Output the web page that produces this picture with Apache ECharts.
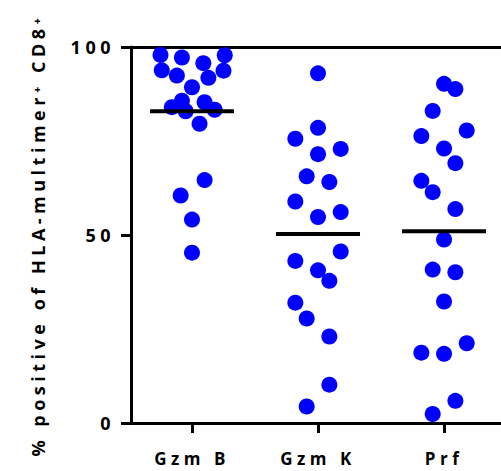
<!DOCTYPE html>
<html>
<head>
<meta charset="utf-8">
<script src="https://cdn.jsdelivr.net/npm/echarts@6/dist/echarts.min.js"></script>
<style>
  html, body { margin: 0; padding: 0; background: #fff; }
  #chart { width: 501px; height: 471px; }
  #chart text { letter-spacing: 4.5px; }
</style>
</head>
<body>
<div id="chart"></div>
<script>
var categories = ["Gzm B", "Gzm K", "Prf"];
var yTicks = [0, 50, 100];

// % positive
var gzmBValues = [97.9, 97.2, 95.7, 97.8, 93.8, 92.4, 91.8, 93.7, 89.3, 85.7, 85.3, 84.0, 82.9, 83.3, 79.6, 64.6, 60.5, 54.1, 45.3];
var gzmKValues = [93.0, 78.5, 75.6, 72.9, 71.5, 65.6, 64.1, 58.9, 54.8, 56.1, 45.6, 43.1, 40.6, 37.8, 32.0, 27.8, 23.0, 10.2, 4.4];
var prfValues = [90.2, 88.8, 83.0, 77.8, 76.3, 73.0, 69.1, 64.4, 61.4, 56.9, 48.8, 40.8, 40.1, 32.3, 21.2, 18.7, 18.4, 5.9, 2.4];

// horizontal scatter of each dot inside its column (in category units)
var gzmBJitter = [-0.25, -0.08, 0.09, 0.26, -0.24, -0.12, 0.13, 0.25, 0.0, -0.08, 0.1, -0.16, -0.05, 0.18, 0.06, 0.1, -0.09, 0.0, 0.0];
var gzmKJitter = [0, 0, -0.18, 0.18, 0, -0.09, 0.09, -0.18, 0, 0.18, 0.18, -0.18, 0, 0.09, -0.18, -0.09, 0.09, 0.09, -0.09];
var prfJitter = [0, 0.09, -0.09, 0.18, -0.18, 0, 0.09, -0.18, -0.09, 0.09, 0, -0.09, 0.09, 0, 0.18, -0.18, 0, 0.09, -0.09];

var groups = [
  { values: gzmBValues, jitter: gzmBJitter },
  { values: gzmKValues, jitter: gzmKJitter },
  { values: prfValues, jitter: prfJitter },
];

var dots = [];
var means = [];
groups.forEach(function (g, i) {
  var sum = 0;
  g.values.forEach(function (v, k) {
    dots.push([i + g.jitter[k], v]);
    sum += v;
  });
  means.push([i, sum / g.values.length]);
});

var font = "Open Sans";
var chart = echarts.init(document.getElementById("chart"), null, { renderer: "svg" });

chart.setOption({
  animation: false,
  grid: { left: 131, right: 0, top: 47, bottom: 48 },
  xAxis: [
    {
      type: "value",
      min: -0.484,
      max: 2.452,
      splitLine: { show: false },
      axisLine: { onZero: false, lineStyle: { color: "#000", width: 3 } },
      axisTick: {
        show: true,
        customValues: [0, 1, 2],
        length: 10,
        lineStyle: { color: "#000", width: 3 },
      },
      axisLabel: {
        customValues: [0, 1, 2],
        formatter: function (v) {
          return categories[Math.round(v)];
        },
        margin: 27,
        color: "#000",
        fontFamily: font,
        fontWeight: "bold",
        fontSize: 17,
      },
    },
    {
      type: "value",
      position: "top",
      min: -0.484,
      max: 2.452,
      splitLine: { show: false },
      axisLine: { show: true, onZero: false, lineStyle: { color: "#000", width: 3 } },
      axisTick: { show: false },
      axisLabel: { show: false },
    },
  ],
  yAxis: {
    type: "value",
    min: yTicks[0],
    max: yTicks[yTicks.length - 1],
    interval: 50,
    splitLine: { show: false },
    axisLine: { show: true, onZero: false, lineStyle: { color: "#000", width: 3 } },
    axisTick: { show: true, length: 10, lineStyle: { color: "#000", width: 3 } },
    axisLabel: {
      margin: 16,
      padding: [8, 0, 0, 0],
      color: "#000",
      fontFamily: font,
      fontWeight: "bold",
      fontSize: 18,
    },
    name: "% positive of HLA-multimer\u207A CD8\u207A",
    nameLocation: "middle",
    nameGap: 84,
    nameTextStyle: {
      fontFamily: font,
      fontWeight: "bold",
      fontSize: 18,
      color: "#000",
    },
  },
  series: [
    {
      name: "values",
      type: "scatter",
      data: dots,
      symbolSize: 16,
      itemStyle: { color: "#0000ff", opacity: 1 },
      z: 2,
    },
    {
      name: "mean",
      type: "scatter",
      data: means,
      symbol: "rect",
      symbolSize: [84, 4],
      itemStyle: { color: "#000", opacity: 1 },
      z: 3,
    },
  ],
});
</script>
</body>
</html>
